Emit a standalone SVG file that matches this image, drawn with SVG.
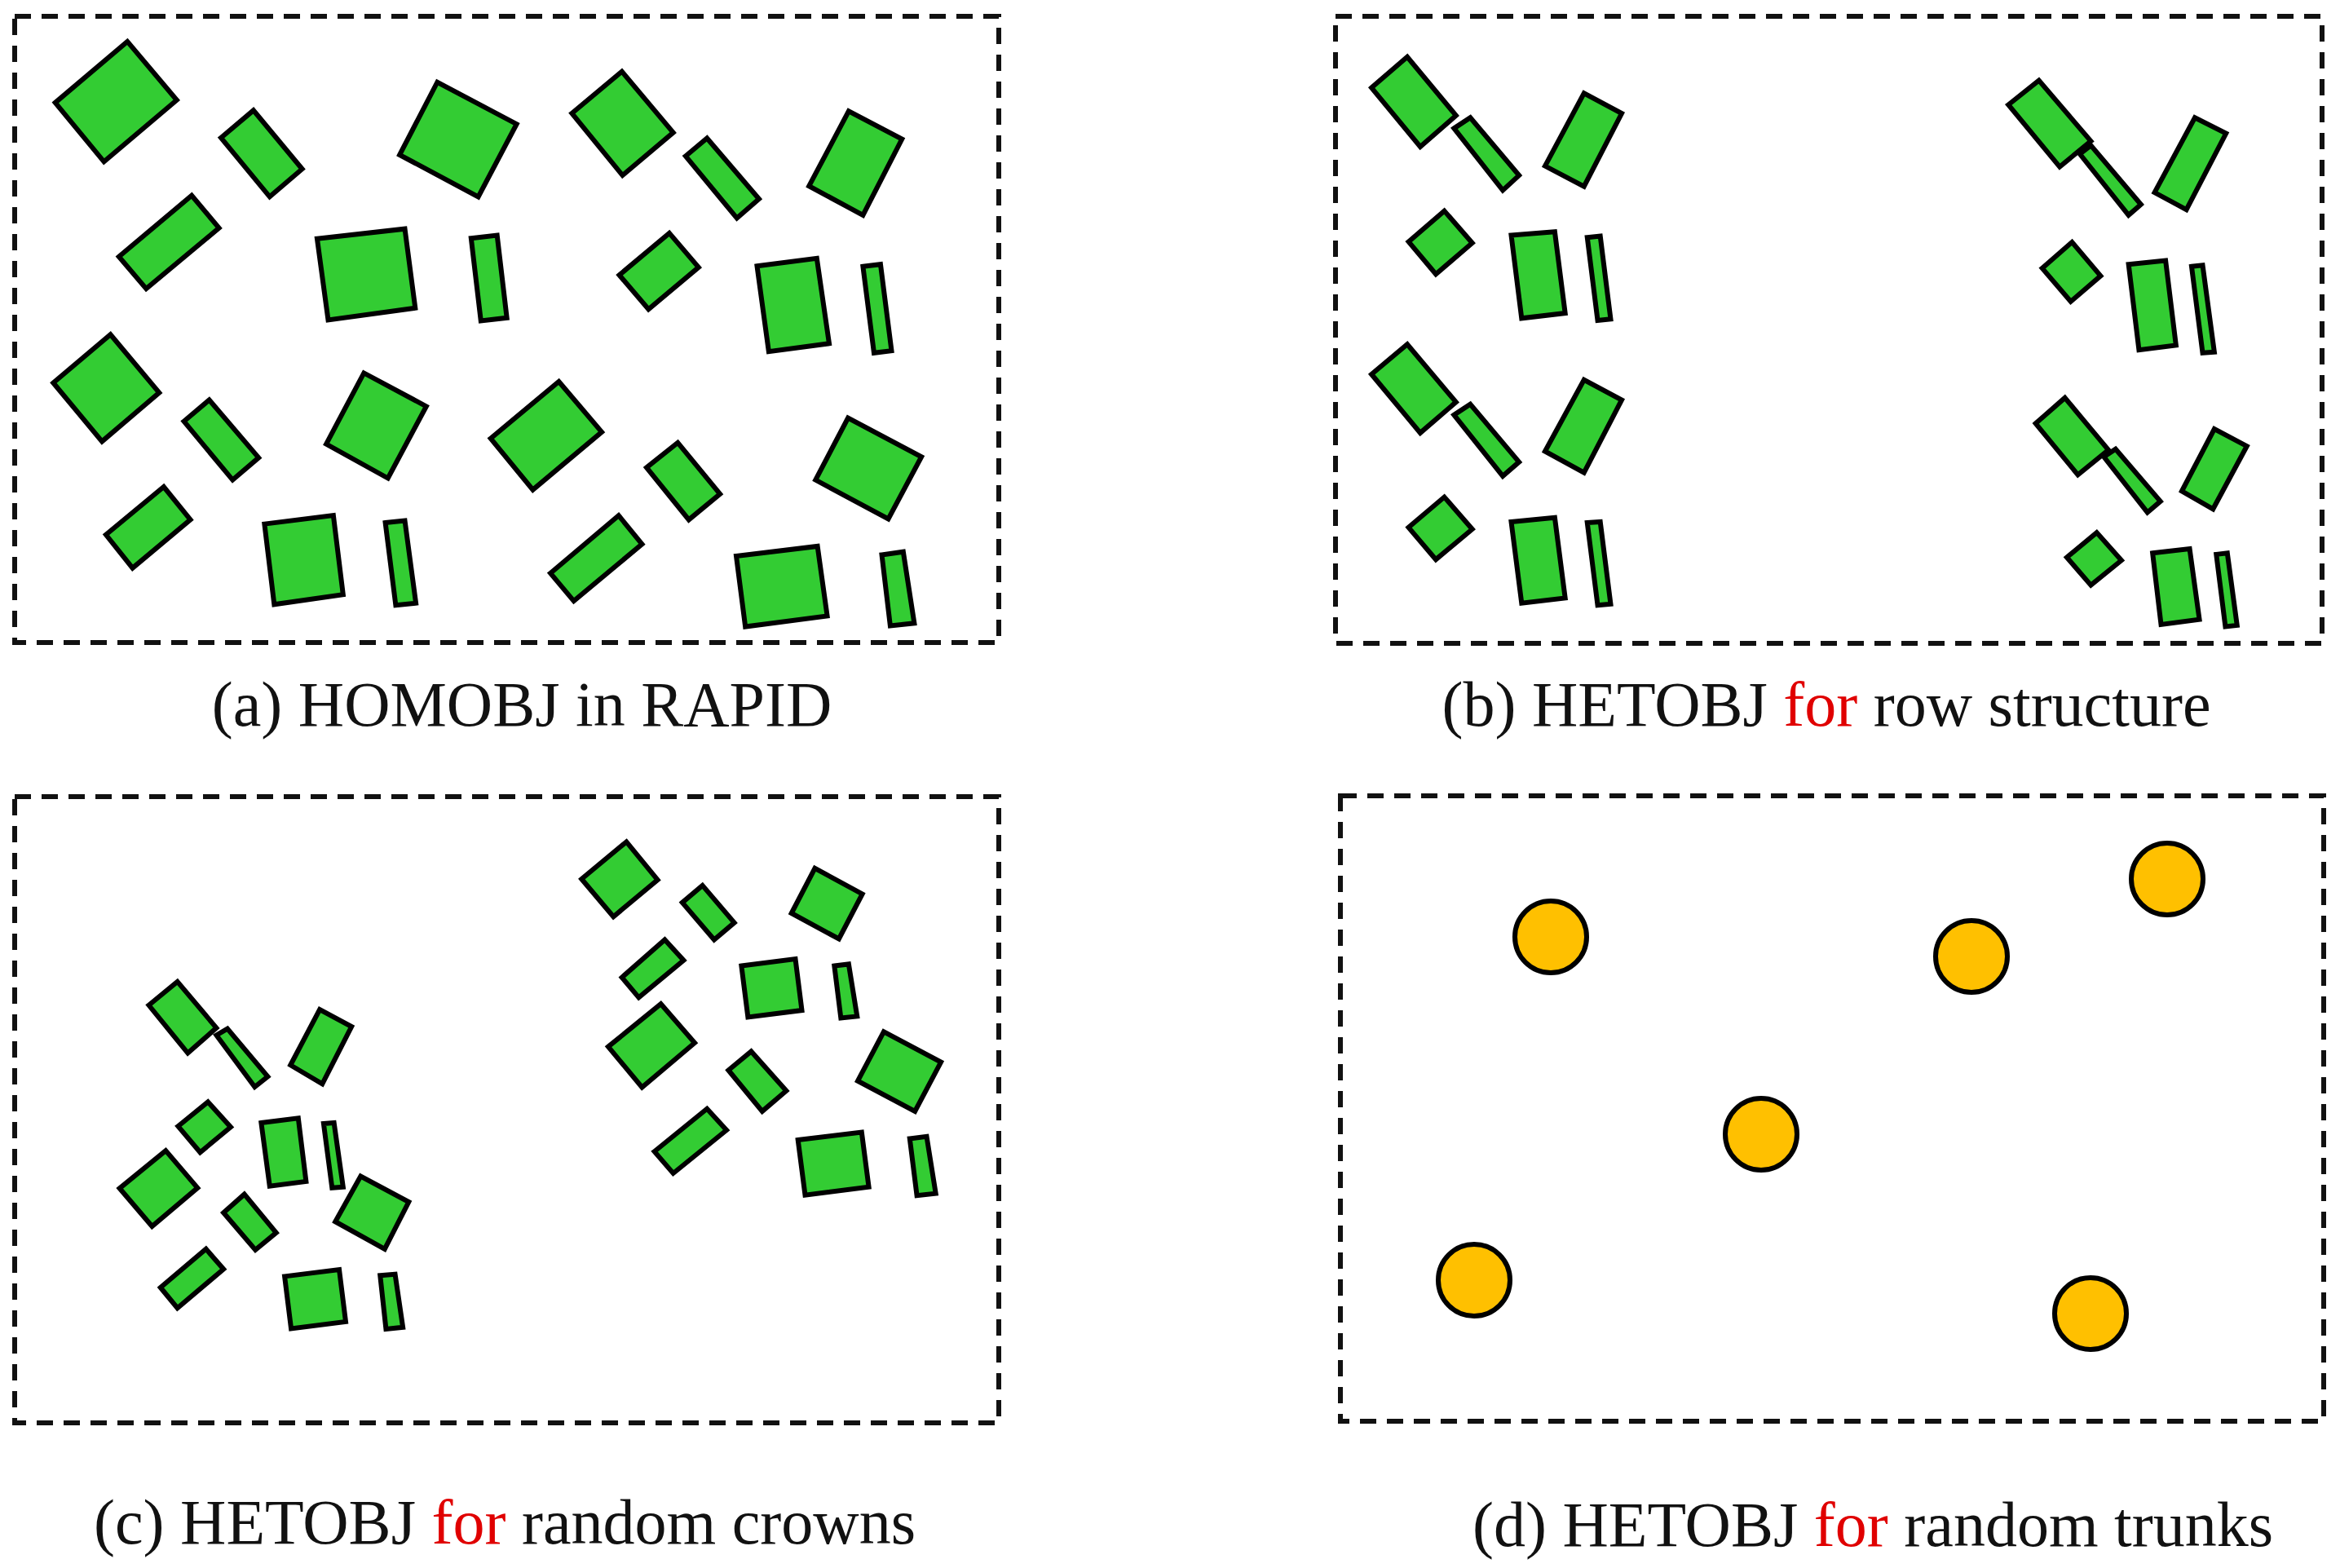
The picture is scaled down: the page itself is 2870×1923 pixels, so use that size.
<svg xmlns="http://www.w3.org/2000/svg" width="2870" height="1923" viewBox="0 0 2870 1923">
<style>
.f{fill:none;stroke:#111;stroke-width:6;stroke-dasharray:20,13}
.g polygon{fill:#33CC33;stroke:#000;stroke-width:6;stroke-linejoin:miter;vector-effect:non-scaling-stroke}
.c{fill:#FFC000;stroke:#000;stroke-width:6}
text{font-family:"Liberation Serif","Times New Roman",serif;font-size:78px;text-anchor:middle;fill:#111}
.r{fill:#E00000}
</style>
<rect width="2870" height="1923" fill="#fff"/>
<g id="panel-a">
<rect class="f" x="18" y="20" width="1207" height="768"/>
<g class="g" transform="translate(0,0) scale(0.797,0.5246)">
<polygon points="85,240 196,97 272,234 160,378"/>
<polygon points="340,322 390,258 465,395 415,460"/>
<polygon points="615,362 673,192 795,290 736,460"/>
<polygon points="880,265 957,167 1036,310 958,410"/>
<polygon points="1055,365 1088,323 1168,465 1134,510"/>
<polygon points="1245,435 1306,260 1388,325 1328,503"/>
<polygon points="183,600 295,457 337,533 225,675"/>
<polygon points="488,558 623,535 639,720 505,748"/>
<polygon points="725,557 765,550 780,743 740,750"/>
<polygon points="953,643 1030,545 1075,625 998,723"/>
<polygon points="1165,622 1257,604 1276,803 1183,822"/>
<polygon points="1328,623 1355,618 1372,820 1345,825"/>
<polygon points="82,895 170,782 245,918 157,1032"/>
<polygon points="283,985 322,935 398,1070 358,1122"/>
<polygon points="502,1038 560,872 656,950 597,1118"/>
<polygon points="755,1025 860,892 926,1010 820,1145"/>
<polygon points="995,1093 1043,1035 1108,1155 1060,1215"/>
<polygon points="1255,1122 1305,977 1418,1068 1367,1213"/>
<polygon points="163,1250 252,1138 293,1215 204,1328"/>
<polygon points="407,1225 513,1205 528,1390 422,1413"/>
<polygon points="593,1222 623,1217 640,1410 609,1415"/>
<polygon points="847,1340 952,1205 988,1272 883,1405"/>
<polygon points="1133,1300 1258,1277 1273,1440 1147,1465"/>
<polygon points="1357,1297 1390,1290 1407,1457 1370,1463"/>
</g>
<text x="640" y="890">(a) HOMOBJ in RAPID</text>
</g>
<g id="panel-b">
<rect class="f" x="1638" y="20" width="1210" height="769"/>
<g class="g" transform="translate(1620,0) scale(0.797,0.5246)">
<polygon points="78,205 133,133 208,270 153,343"/>
<polygon points="205,300 230,275 305,410 280,445"/>
<polygon points="345,388 405,218 463,265 405,436"/>
<polygon points="135,565 190,493 233,568 177,641"/>
<polygon points="293,550 360,542 376,732 309,744"/>
<polygon points="410,555 430,552 446,746 426,749"/>
<polygon points="78,875 133,805 208,940 153,1012"/>
<polygon points="205,970 230,945 305,1080 280,1113"/>
<polygon points="345,1055 405,888 463,935 405,1105"/>
<polygon points="135,1233 190,1162 233,1237 177,1308"/>
<polygon points="293,1220 360,1210 376,1398 309,1410"/>
<polygon points="410,1222 430,1220 446,1412 426,1415"/>
<polygon points="1058,245 1105,188 1185,330 1137,390"/>
<polygon points="1168,360 1185,340 1262,478 1243,503"/>
<polygon points="1283,450 1345,275 1393,312 1332,490"/>
<polygon points="1110,627 1156,566 1200,645 1154,705"/>
<polygon points="1243,618 1300,609 1316,807 1259,818"/>
<polygon points="1340,623 1357,620 1375,823 1357,825"/>
<polygon points="1100,990 1145,930 1212,1052 1165,1110"/>
<polygon points="1205,1068 1223,1050 1292,1172 1272,1198"/>
<polygon points="1325,1148 1375,1003 1425,1043 1373,1190"/>
<polygon points="1148,1303 1194,1245 1232,1310 1185,1368"/>
<polygon points="1280,1293 1337,1283 1352,1448 1293,1460"/>
<polygon points="1378,1296 1395,1293 1410,1462 1392,1465"/>
</g>
<text x="2240" y="890">(b) HETOBJ <tspan class="r">for</tspan> row structure</text>
</g>
<g id="panel-c">
<rect class="f" x="18" y="977" width="1207" height="768"/>
<g class="g" transform="translate(0,960) scale(0.797,0.5246)">
<polygon points="229,520 273,465 333,573 289,632"/>
<polygon points="333,590 350,575 412,687 392,711"/>
<polygon points="447,660 492,530 541,570 496,704"/>
<polygon points="274,803 320,746 355,805 308,864"/>
<polygon points="402,795 459,784 471,932 415,943"/>
<polygon points="498,797 514,795 528,945 511,947"/>
<polygon points="184,948 255,860 304,947 234,1037"/>
<polygon points="344,1005 376,962 425,1052 393,1092"/>
<polygon points="516,1026 555,920 629,980 592,1090"/>
<polygon points="247,1180 317,1090 344,1137 273,1228"/>
<polygon points="438,1154 522,1138 532,1260 448,1276"/>
<polygon points="585,1152 608,1149 620,1273 594,1277"/>
<polygon points="895,225 964,138 1012,227 944,313"/>
<polygon points="1050,280 1081,240 1130,327 1099,367"/>
<polygon points="1218,305 1254,200 1327,260 1291,365"/>
<polygon points="957,455 1023,367 1052,415 983,502"/>
<polygon points="1141,428 1224,412 1234,532 1151,548"/>
<polygon points="1284,428 1306,424 1319,546 1294,550"/>
<polygon points="936,617 1017,517 1069,608 988,712"/>
<polygon points="1121,672 1156,628 1210,720 1173,768"/>
<polygon points="1320,697 1360,582 1448,653 1408,768"/>
<polygon points="1007,862 1088,762 1118,812 1036,913"/>
<polygon points="1228,835 1326,817 1337,945 1239,964"/>
<polygon points="1400,832 1426,827 1440,960 1411,965"/>
</g>
<text x="619" y="1893">(c) HETOBJ <tspan class="r">for</tspan> random crowns</text>
</g>
<g id="panel-d">
<rect class="f" x="1644" y="976" width="1206" height="767"/>
<circle class="c" cx="1902" cy="1149" r="44"/>
<circle class="c" cx="2418" cy="1173" r="44"/>
<circle class="c" cx="2658" cy="1078" r="44"/>
<circle class="c" cx="2160" cy="1391" r="44"/>
<circle class="c" cx="1808" cy="1570" r="44"/>
<circle class="c" cx="2564" cy="1611" r="44"/>
<text x="2297" y="1896">(d) HETOBJ <tspan class="r">for</tspan> random trunks</text>
</g>
</svg>
